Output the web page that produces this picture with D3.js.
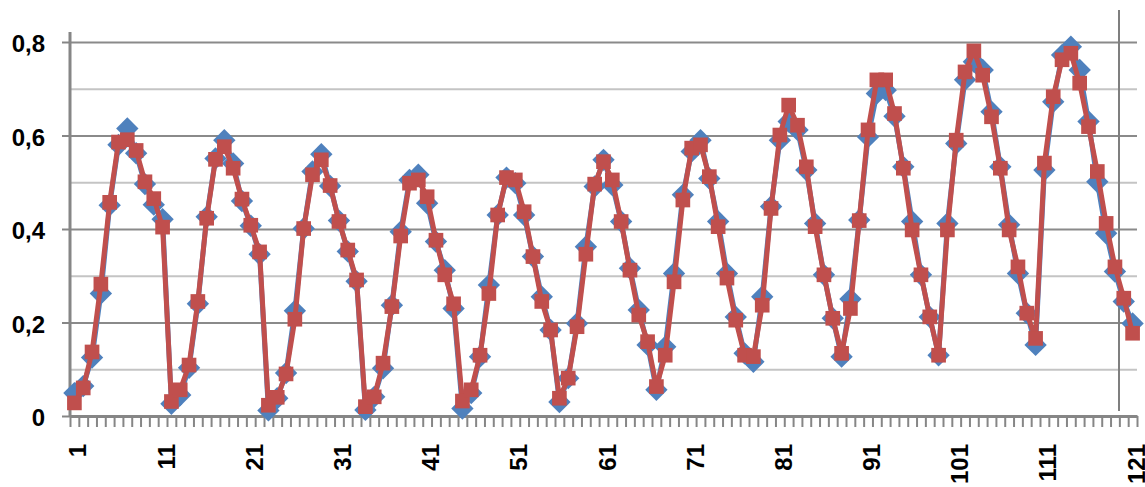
<!DOCTYPE html>
<html>
<head>
<meta charset="utf-8">
<script src="https://cdn.jsdelivr.net/npm/d3@7"></script>
<style>
  body { margin: 0; background: #fff; }
  #chart text { font-family: "Liberation Sans", Arial, sans-serif; font-weight: bold; fill: #000; }
</style>
</head>
<body>
<div id="chart"></div>
<script>
// x categories 1..121, labels every 10
const categories = d3.range(1, 122);
const xTickLabels = [1, 11, 21, 31, 41, 51, 61, 71, 81, 91, 101, 111, 121];
const yTickValues = [0, 0.2, 0.4, 0.6, 0.8];
const yTickLabels = ["0", "0,2", "0,4", "0,6", "0,8"];

// series 1 (blue diamonds)
const seriesBlue = [
  0.049, 0.064, 0.125, 0.262, 0.451, 0.580, 0.615, 0.562, 0.496, 0.452,
  0.421, 0.026, 0.045, 0.103, 0.240, 0.426, 0.551, 0.590, 0.540, 0.460,
  0.407, 0.346, 0.012, 0.038, 0.092, 0.225, 0.401, 0.523, 0.560, 0.492,
  0.418, 0.352, 0.288, 0.013, 0.041, 0.102, 0.237, 0.394, 0.505, 0.516,
  0.455, 0.373, 0.312, 0.230, 0.016, 0.049, 0.127, 0.280, 0.430, 0.510,
  0.498, 0.430, 0.341, 0.255, 0.184, 0.030, 0.081, 0.198, 0.362, 0.491,
  0.548, 0.494, 0.416, 0.316, 0.227, 0.152, 0.056, 0.148, 0.305, 0.473,
  0.566, 0.590, 0.508, 0.416, 0.305, 0.212, 0.134, 0.116, 0.255, 0.448,
  0.590, 0.630, 0.612, 0.526, 0.412, 0.302, 0.209, 0.127, 0.250, 0.419,
  0.597, 0.690, 0.697, 0.641, 0.533, 0.416, 0.302, 0.212, 0.130, 0.412,
  0.583, 0.719, 0.758, 0.740, 0.651, 0.533, 0.409, 0.305, 0.220, 0.152,
  0.526, 0.672, 0.772, 0.790, 0.740, 0.630, 0.501, 0.391, 0.309, 0.245,
  0.198
];

// series 2 (red squares)
const seriesRed = [
  0.028, 0.060, 0.137, 0.282, 0.457, 0.586, 0.591, 0.568, 0.501, 0.465,
  0.404, 0.031, 0.056, 0.109, 0.245, 0.423, 0.549, 0.576, 0.530, 0.464,
  0.408, 0.351, 0.023, 0.040, 0.090, 0.207, 0.401, 0.516, 0.548, 0.493,
  0.416, 0.355, 0.291, 0.020, 0.041, 0.113, 0.234, 0.385, 0.498, 0.505,
  0.469, 0.376, 0.302, 0.240, 0.032, 0.056, 0.130, 0.262, 0.430, 0.510,
  0.505, 0.437, 0.341, 0.245, 0.184, 0.038, 0.081, 0.191, 0.346, 0.496,
  0.544, 0.505, 0.416, 0.312, 0.216, 0.159, 0.063, 0.130, 0.287, 0.462,
  0.573, 0.580, 0.512, 0.405, 0.295, 0.205, 0.130, 0.127, 0.237, 0.444,
  0.601, 0.665, 0.622, 0.533, 0.405, 0.302, 0.209, 0.134, 0.230, 0.418,
  0.612, 0.719, 0.719, 0.647, 0.530, 0.398, 0.302, 0.212, 0.130, 0.398,
  0.590, 0.736, 0.781, 0.729, 0.640, 0.530, 0.398, 0.319, 0.220, 0.166,
  0.541, 0.683, 0.762, 0.776, 0.712, 0.619, 0.523, 0.412, 0.319, 0.252,
  0.177
];

document.addEventListener("DOMContentLoaded", () => {
  const W = 1145, H = 487;
  const left = 70, right = 1137, top = 42, bottom = 416;

  const svg = d3.select("#chart").append("svg")
    .attr("width", W)
    .attr("height", H);

  const defs = svg.append("defs");
  defs.append("filter").attr("id", "soft")
    .append("feGaussianBlur").attr("stdDeviation", 0.7);

  const x = d3.scaleBand().domain(categories).range([left, right]).padding(0);
  const xb = d3.scaleLinear().domain([0, categories.length]).range([left, right]);
  const y = d3.scaleLinear().domain([0, 0.8]).range([bottom, top]);
  const cx = d => x(d) + x.bandwidth() / 2;

  // gridlines (0.1 steps, major every 0.2)
  const grid = svg.append("g")
    .attr("transform", `translate(${left},0)`)
    .call(d3.axisLeft(y).tickValues(d3.range(1, 9).map(i => i / 10)).tickSize(-(right - left)).tickFormat(""));
  grid.select(".domain").remove();
  grid.selectAll(".tick line")
    .attr("stroke", (d, i) => (i % 2 === 1) ? "#8a8a8a" : "#c4c4c4")
    .attr("stroke-width", 2);

  // y axis
  const yAxis = svg.append("g")
    .attr("transform", `translate(${left},0)`)
    .call(d3.axisLeft(y).tickValues(yTickValues).tickSize(8).tickSizeOuter(0).tickPadding(17)
      .tickFormat((d, i) => yTickLabels[i]));
  yAxis.select(".domain").remove();
  yAxis.selectAll(".tick line").attr("stroke", "#868686").attr("stroke-width", 2);
  yAxis.selectAll("text").style("font-size", "24px").attr("dy", "0.4em");
  svg.append("line")
    .attr("x1", left).attr("x2", left).attr("y1", 32).attr("y2", bottom)
    .attr("stroke", "#868686").attr("stroke-width", 3);

  // x axis tick marks at category boundaries
  const xTicks = svg.append("g")
    .attr("transform", `translate(0,${bottom})`)
    .call(d3.axisBottom(xb).tickValues(d3.range(0, categories.length + 1)).tickSize(11).tickSizeOuter(0).tickFormat(""));
  xTicks.select(".domain").attr("stroke", "#868686").attr("stroke-width", 3);
  xTicks.selectAll(".tick line").attr("stroke", "#868686").attr("stroke-width", 2);

  // x labels, rotated
  const xLabels = svg.append("g")
    .attr("transform", `translate(0,${bottom})`)
    .call(d3.axisBottom(x).tickValues(xTickLabels).tickSize(0));
  xLabels.select(".domain").remove();
  xLabels.selectAll("text")
    .style("font-size", "24px")
    .attr("transform", "rotate(-90)")
    .attr("text-anchor", "end")
    .attr("x", -28)
    .attr("y", 12)
    .attr("dy", 0);

  // vertical line near right edge
  svg.append("line")
    .attr("x1", 1119).attr("x2", 1119).attr("y1", 10).attr("y2", 411)
    .attr("stroke", "#7f7f7f").attr("stroke-width", 2);

  const line = d3.line().x((d, i) => cx(categories[i])).y(d => y(d));

  const series = [
    { values: seriesBlue, color: "#4F81BD", rot: 45, size: 250 },
    { values: seriesRed, color: "#C0504D", rot: 0, size: 215 }
  ];

  series.forEach(s => {
    const g = svg.append("g").attr("filter", "url(#soft)");
    g.append("path")
      .datum(s.values)
      .attr("d", line)
      .attr("fill", "none")
      .attr("stroke", s.color)
      .attr("stroke-width", 5)
      .attr("stroke-linejoin", "round");
    g.selectAll(".mark")
      .data(s.values)
      .enter()
      .append("path")
      .attr("class", "mark")
      .attr("d", d3.symbol(d3.symbolSquare, s.size))
      .attr("transform", (d, i) => `translate(${cx(categories[i])},${y(d)}) rotate(${s.rot})`)
      .attr("fill", s.color);
  });
});
</script>
</body>
</html>
